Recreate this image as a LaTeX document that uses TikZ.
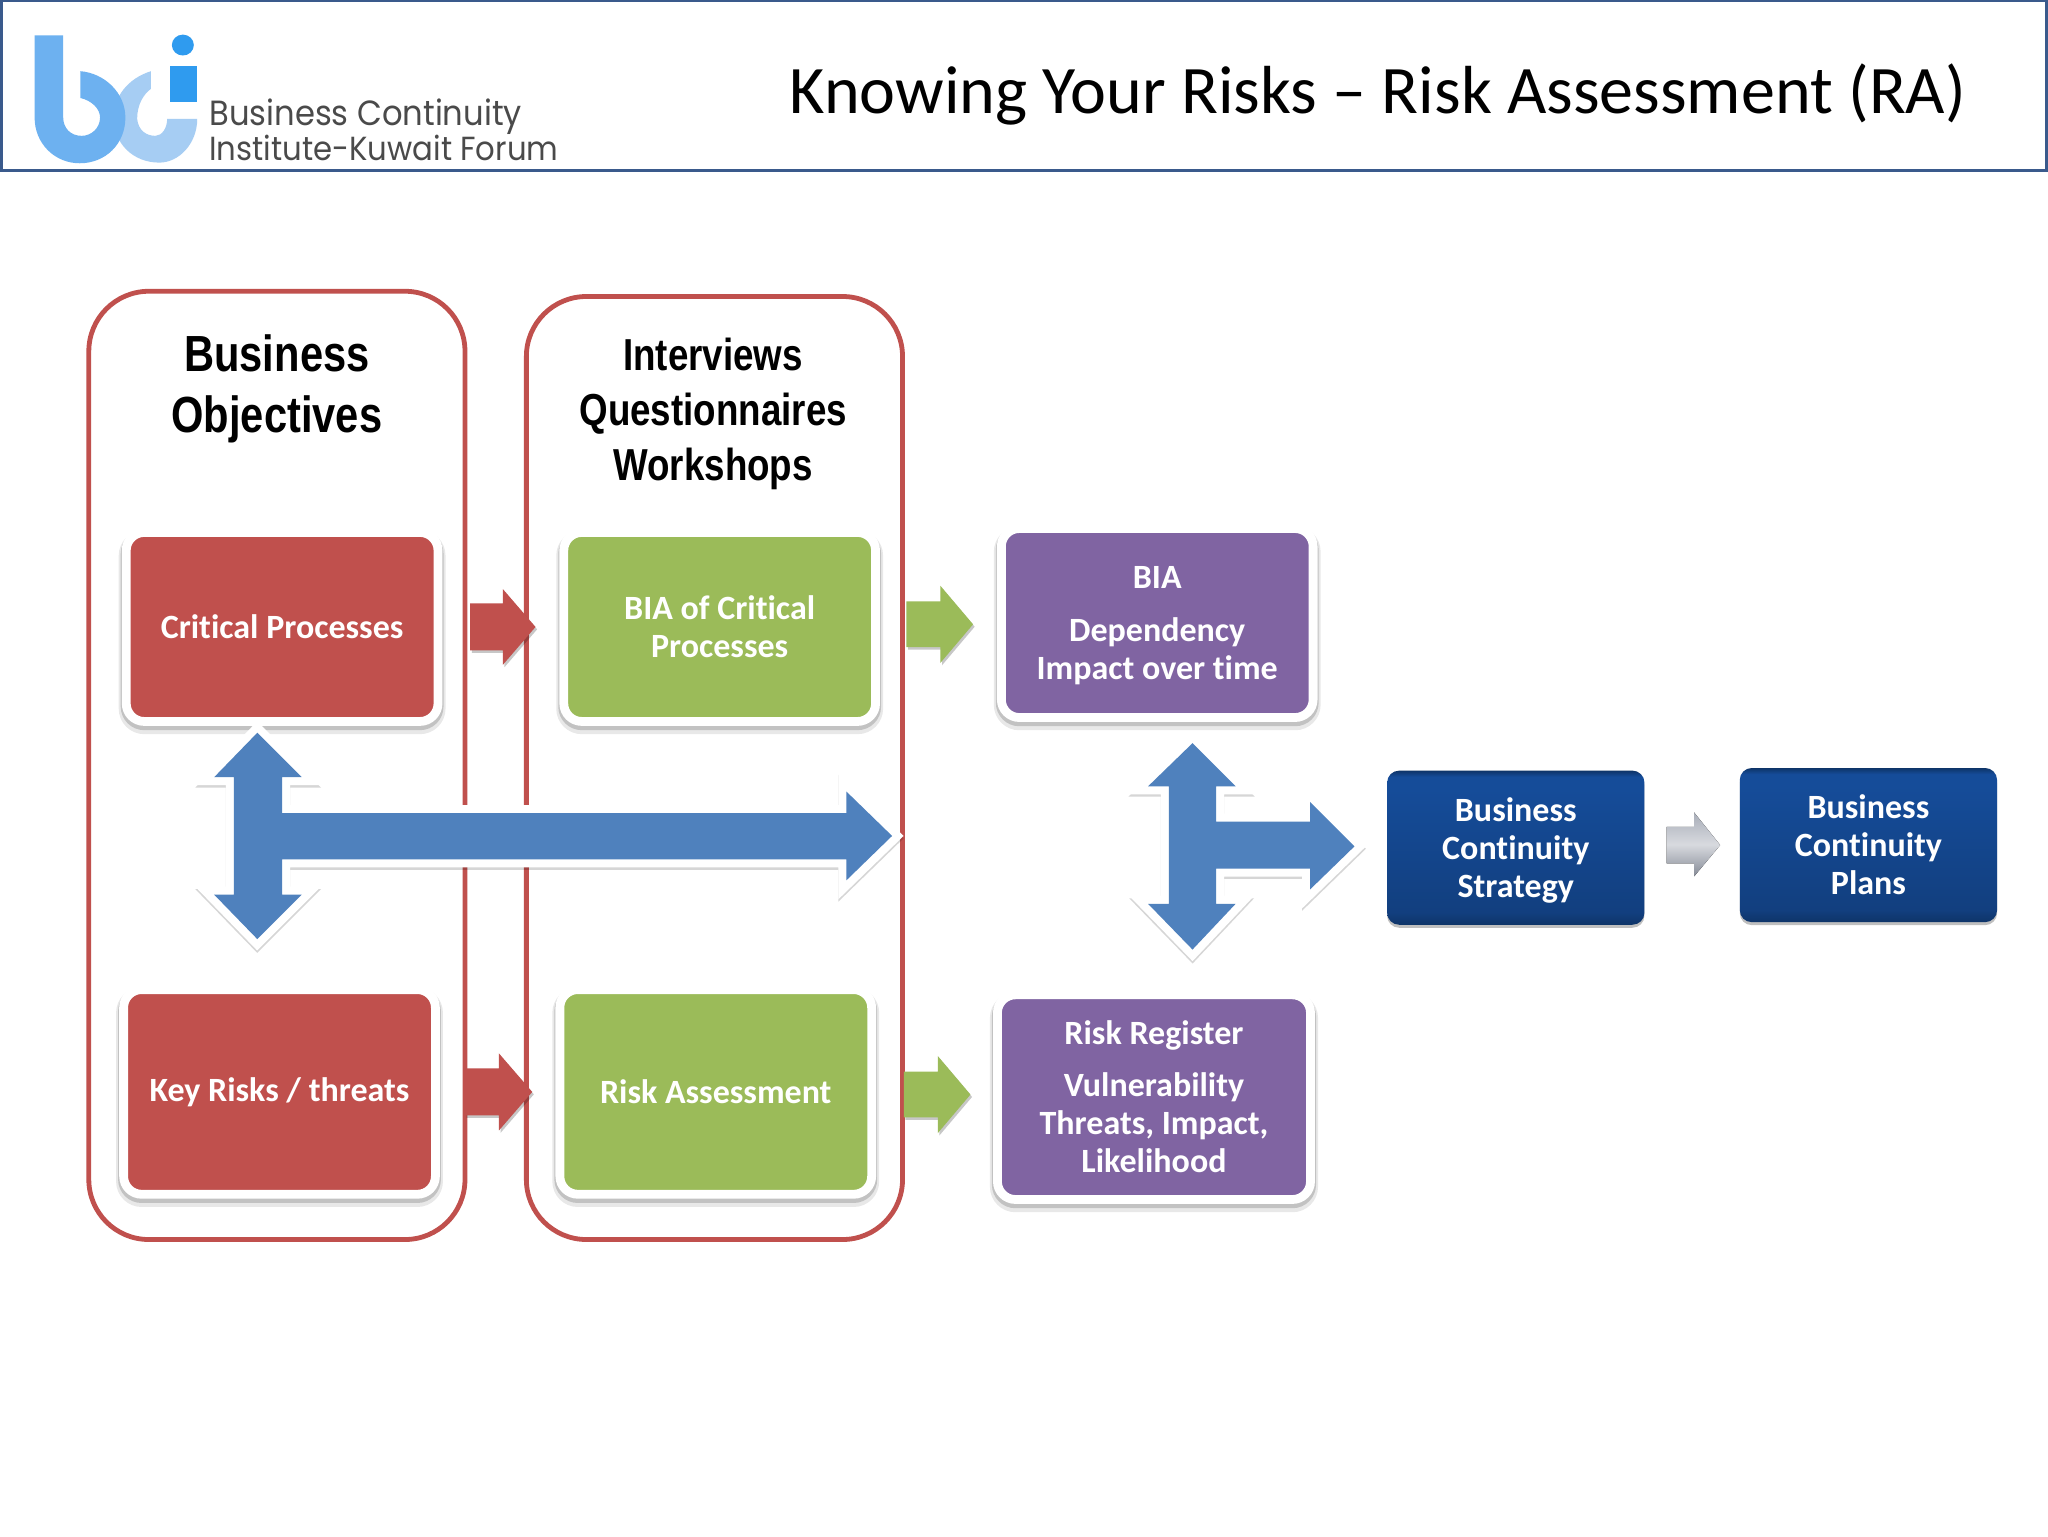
\documentclass[tikz,border=0pt]{standalone}
\usepackage{fontspec}
\setmainfont[Ligatures=NoCommon]{Carlito}
\newfontfamily\logofont[FakeStretch=0.92]{Poppins}
\newfontfamily\narrowfont[FakeStretch=0.82]{Liberation Sans}
\usetikzlibrary{calc}
\definecolor{redb}{HTML}{C0504D}
\definecolor{greenb}{HTML}{9BBB59}
\definecolor{purpleb}{HTML}{8064A2}
\definecolor{blueb}{HTML}{4F81BD}
\definecolor{frameb}{HTML}{3A5A8C}
\definecolor{logolight}{HTML}{A6CDF3}
\definecolor{logomid}{HTML}{6DB1F0}
\definecolor{logodeep}{HTML}{2F9BEF}
\definecolor{logotext}{HTML}{4A4A4A}
\definecolor{arrowgrayt}{HTML}{A8ADB8}
\definecolor{arrowgrayl}{HTML}{D8DADF}
\definecolor{arrowgrayb}{HTML}{858A96}
\definecolor{deepedge}{HTML}{0E3468}
\definecolor{deepupper}{HTML}{154C99}
\definecolor{deeplower}{HTML}{123F7F}
\pgfdeclareverticalshading{deepshade}{100bp}{
  color(0bp)=(deepedge); color(25bp)=(deepedge); color(29bp)=(deeplower);
  color(69bp)=(deepupper); color(73bp)=(deepupper); color(75bp)=(deepedge); color(100bp)=(deepedge)}
\tikzset{
  x=0.65306pt,y=-0.65306pt,
  softshadow/.style={preaction={draw=black,draw opacity=.09,line width=7.5pt,transform canvas={yshift=-2.6pt}},
                     preaction={draw=black,draw opacity=.16,line width=5.5pt,transform canvas={yshift=-1.6pt}}},
  card/.style={softshadow,draw=white,line width=4.4pt,rounded corners=9pt,align=center,text=white,
     font=\fontsize{17}{19}\selectfont\bfseries,inner sep=0pt},
  deepcard/.style={rounded corners=6pt,align=center,text=white,font=\fontsize{17}{19}\selectfont\bfseries,inner sep=0pt,
     shading=deepshade,
     preaction={fill=black,fill opacity=.25,transform canvas={yshift=-1.5pt}}},
  panel/.style={draw=redb,line width=2.4pt,rounded corners=30pt,inner sep=0pt},
  heading/.style={align=center,text=black,inner sep=0pt},
}
\newcommand{\blockarrow}[7]{% col, tailx, basex, tipx, yc, shafthalf, headhalf
  \fill[black,opacity=.22,transform canvas={xshift=.8pt,yshift=-1.2pt}] (#2,#5-#6) -- (#3,#5-#6) -- (#3,#5-#7) -- (#4,#5) -- (#3,#5+#7) -- (#3,#5+#6) -- (#2,#5+#6) -- cycle;
  \fill[#1] (#2,#5-#6) -- (#3,#5-#6) -- (#3,#5-#7) -- (#4,#5) -- (#3,#5+#7) -- (#3,#5+#6) -- (#2,#5+#6) -- cycle;
}
\newcommand{\teeshape}[1]{%
  \path[draw=black,draw opacity=.16,line width=8pt,line join=miter,miter limit=2.7,transform canvas={yshift=-1.2pt}] #1 -- cycle;
  \path[draw=white,line width=8pt,line join=miter,miter limit=2.7] #1 -- cycle;
  \fill[blueb] #1 -- cycle;
}
\begin{document}
\begin{tikzpicture}
\useasboundingbox (0,0) rectangle (1568,1176);
\fill[white] (0,0) rectangle (1568,1176);

% header
\draw[frameb,line width=1.4pt] (1,0.8) rectangle (1567,130.5);
\node[inner sep=0pt,font=\fontsize{34}{38}\selectfont] (title) at (1055,72) {Knowing Your Risks – Risk Assessment (RA)};

% logo
\fill[logolight] (115.6,54.5) -- (115.6,68) .. controls (110,72) and (105,80) .. (105,91) .. controls (106,100) and (112,104) .. (119,104) .. controls (124,104) and (128,98) .. (128,91) -- (151,91) .. controls (151,110) and (137,124.5) .. (122,124.5) .. controls (102,124.5) and (87,110) .. (87,90) .. controls (87,74) and (98,60) .. cycle;
\fill[logomid] (26.5,27) -- (48.4,27) -- (48.4,90) .. controls (48.4,98) and (54,104) .. (62.5,104) .. controls (70,104) and (76.6,98) .. (76.6,90) .. controls (76.6,83) and (70,77) .. (61.5,75) -- (61.5,54.5) .. controls (80,56) and (96,71) .. (96,90) .. controls (96,110) and (81,125) .. (61,125) .. controls (42,125) and (26.5,110) .. (26.5,90) -- cycle;
\fill[logodeep] (130,50.6) rectangle (151,78);
\fill[logodeep] (140,34.5) ellipse (8.4 and 8);
\node[inner sep=0pt,anchor=west,text=logotext,font=\logofont\fontsize{17.5}{18}\selectfont] (logoa) at (160,89) {Business Continuity};
\node[inner sep=0pt,anchor=west,text=logotext,font=\logofont\fontsize{16.7}{18}\selectfont] (logob) at (160,113.5) {Institute-Kuwait Forum};

% panels
\node[panel,minimum width=288*0.65306pt,minimum height=726*0.65306pt] (panela) at (212,586) {};
\node[panel,minimum width=288*0.65306pt,minimum height=722*0.65306pt] (panelb) at (547,588) {};
\node[heading,font=\narrowfont\fontsize{25.4}{30.5}\selectfont\bfseries] (heada) at (212,298) {Business\\Objectives};
\node[heading,font=\narrowfont\fontsize{22.4}{27.4}\selectfont\bfseries] (headb) at (546,317) {Interviews\\Questionnaires\\Workshops};

% cards
\node[card,fill=redb,minimum width=238.7*0.65306pt,minimum height=144.7*0.65306pt] (crit) at (216,480) {Critical Processes};
\node[card,fill=greenb,minimum width=238.7*0.65306pt,minimum height=144.7*0.65306pt] (biac) at (551,480) {BIA of Critical\\Processes};
\node[card,fill=purpleb,minimum width=238.7*0.65306pt,minimum height=144.7*0.65306pt] (biad) at (886,477) {\rule{0pt}{13.8pt}BIA\\[7.5pt]Dependency\\Impact over time};
\node[card,fill=redb,minimum width=238.7*0.65306pt,minimum height=156.7*0.65306pt] (keyr) at (214,836) {Key Risks / threats};
\node[card,fill=greenb,minimum width=238.7*0.65306pt,minimum height=156.7*0.65306pt] (riska) at (548,836) {Risk Assessment};
\node[card,fill=purpleb,minimum width=239.7*0.65306pt,minimum height=156.7*0.65306pt] (riskr) at (883.5,840) {Risk Register\\[7pt]Vulnerability\\Threats, Impact,\\Likelihood};
\node[deepcard,minimum width=197*0.65306pt,minimum height=118*0.65306pt] (strat) at (1160.5,649) {\rule{0pt}{15pt}Business\\Continuity\\Strategy};
\node[deepcard,minimum width=197*0.65306pt,minimum height=118*0.65306pt] (plans) at (1430.5,647) {Business\\Continuity\\Plans};

% block arrows
\blockarrow{redb}{360}{385}{410}{480}{18}{29}
\blockarrow{greenb}{694}{720}{745}{478}{17.5}{29.5}
\blockarrow{redb}{356}{382}{407.5}{836}{18}{29.5}
\blockarrow{greenb}{692}{718}{743}{838}{17.5}{29.5}

% gray arrow
\fill[top color=arrowgrayt,bottom color=arrowgrayb,middle color=arrowgrayl] (1276,633) -- (1297,633) -- (1297,622) -- (1317,647) -- (1297,671) -- (1297,661) -- (1276,661) -- cycle;

% big blue arrows
\teeshape{(197,561) -- (231,595) -- (216,595) -- (216,622.5) -- (648,622.5) -- (648,606) -- (683,640) -- (648,674) -- (648,658) -- (216,658) -- (216,685) -- (231,685) -- (197,719) -- (164,685) -- (179,685) -- (179,595) -- (164,595)}
\teeshape{(913,569) -- (946,602) -- (931,602) -- (931,629) -- (1003,629) -- (1003,614) -- (1037,648) -- (1003,681) -- (1003,665) -- (931,665) -- (931,692) -- (946,692) -- (913,727) -- (879,692) -- (895,692) -- (895,602) -- (879,602)}
\end{tikzpicture}
\end{document}
